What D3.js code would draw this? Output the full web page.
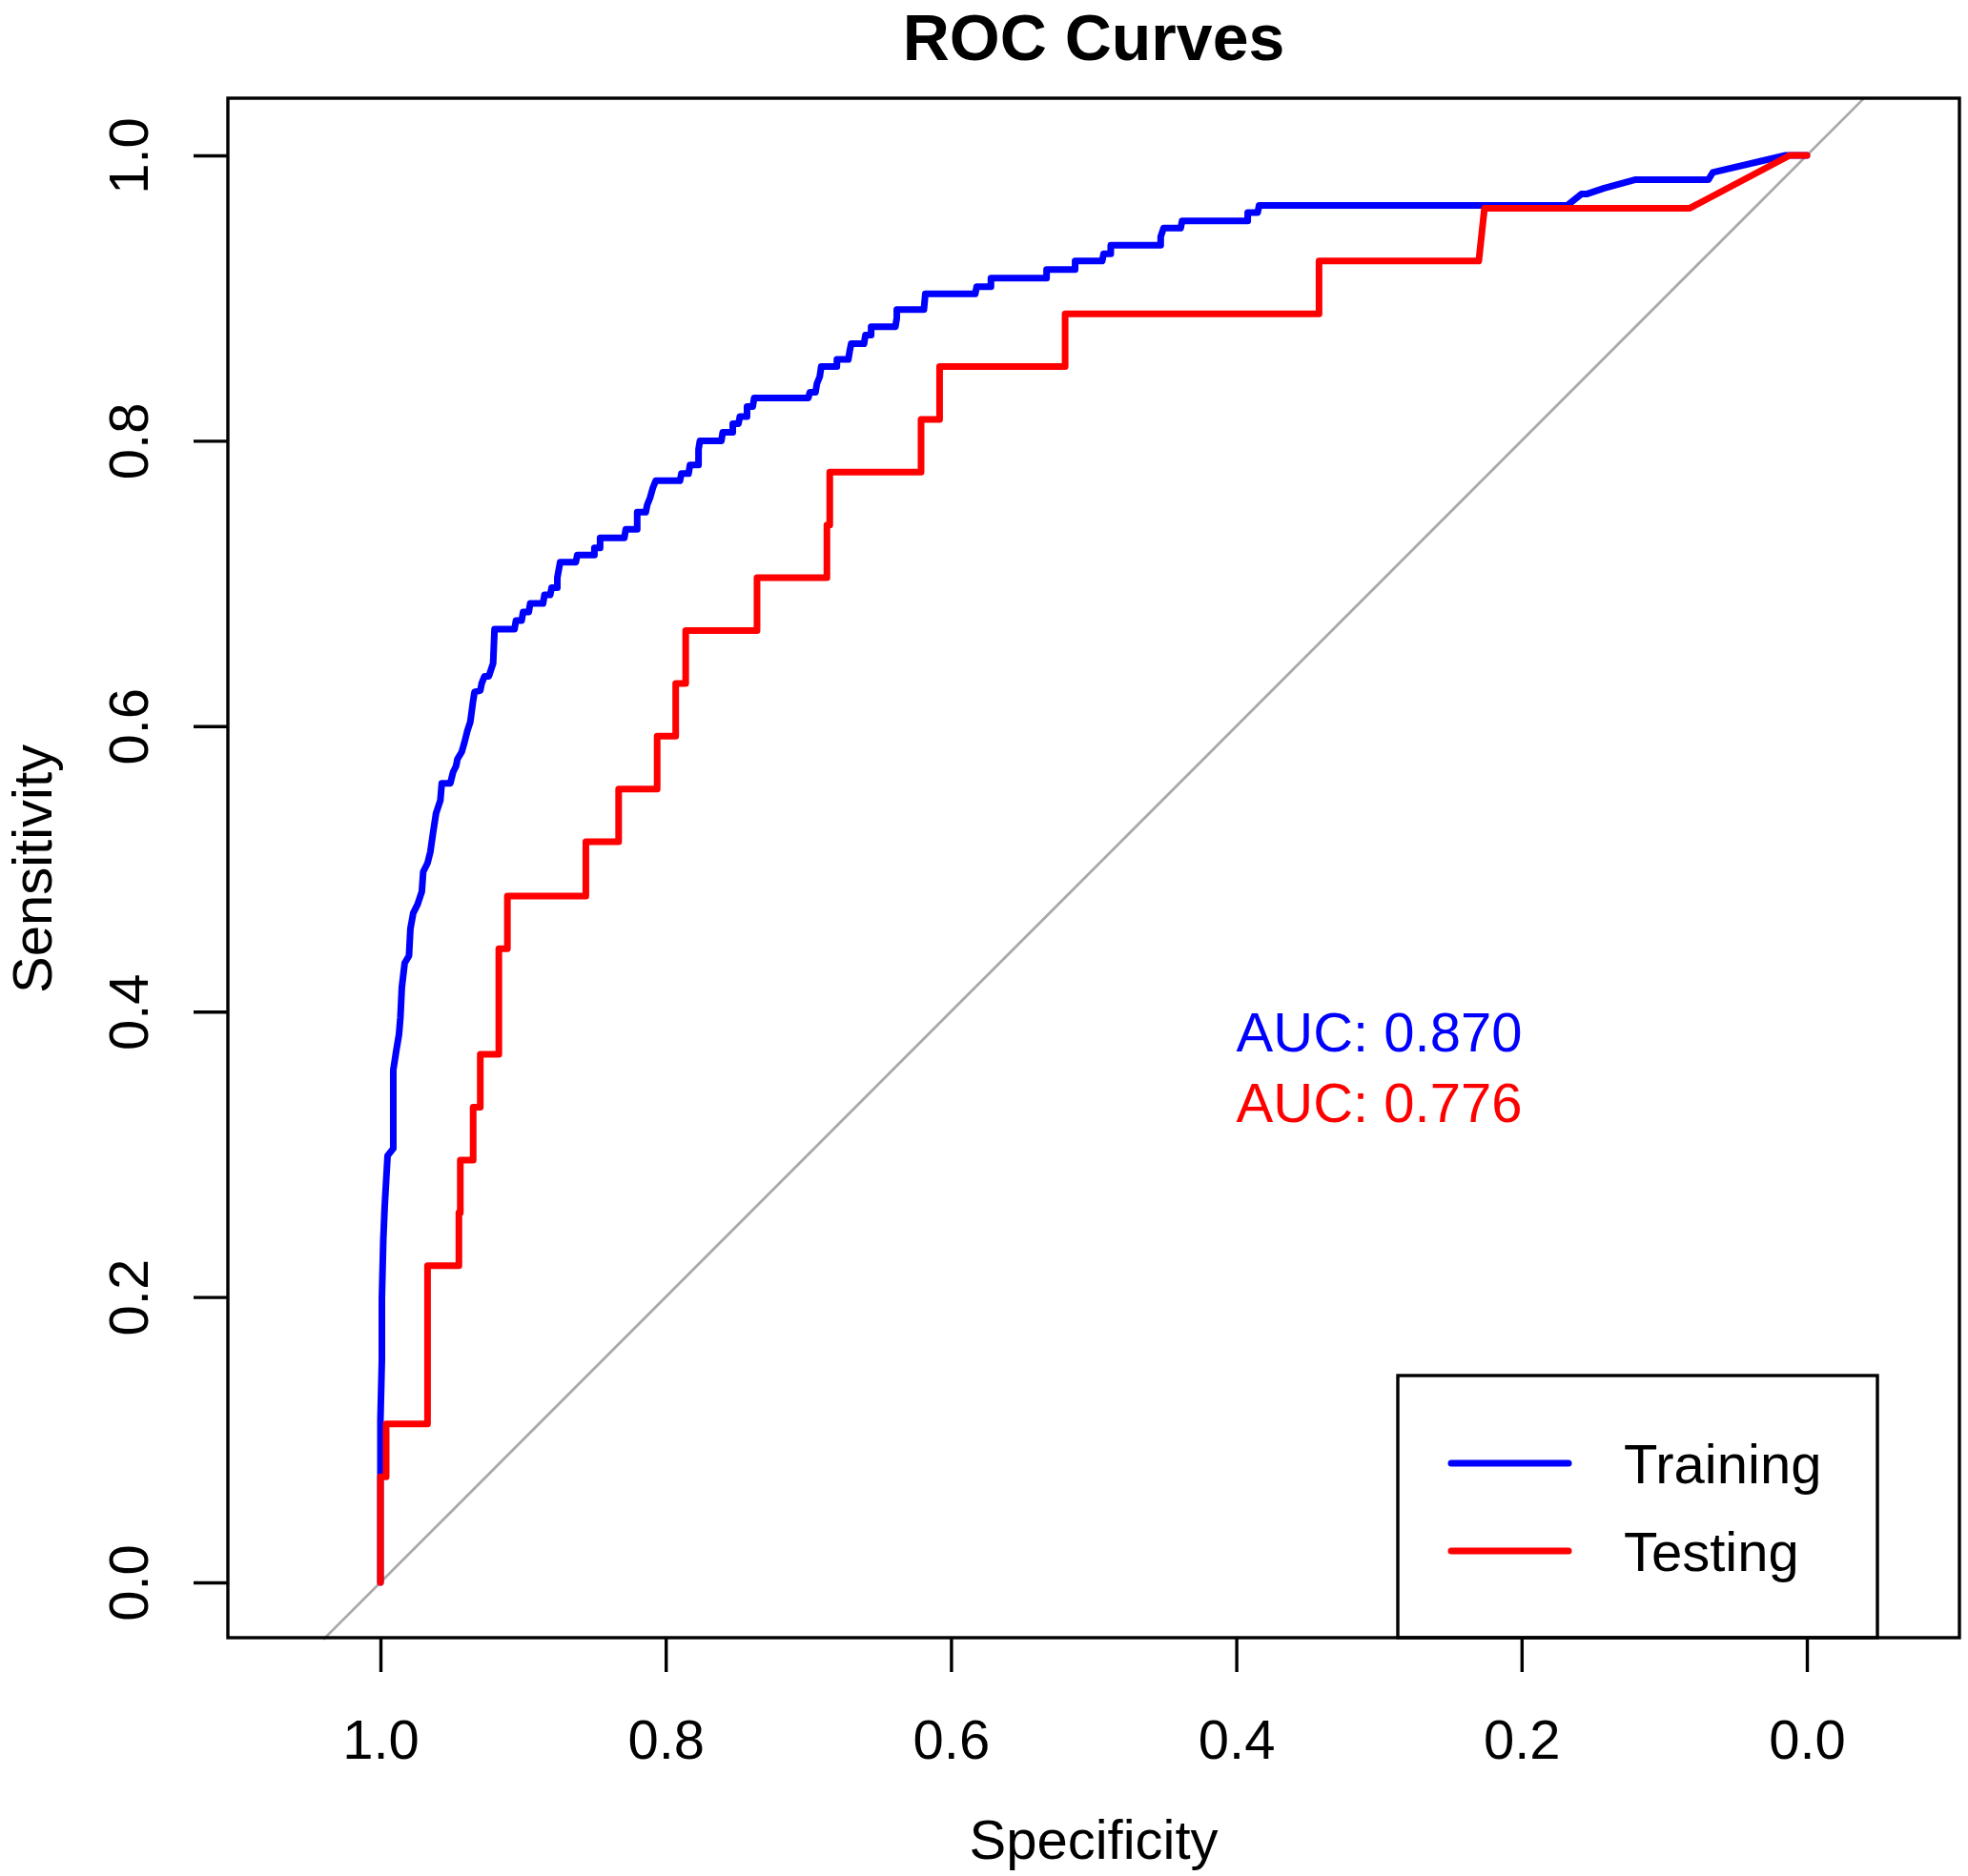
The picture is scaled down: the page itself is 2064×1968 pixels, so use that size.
<!DOCTYPE html>
<html>
<head>
<meta charset="utf-8">
<script src="https://cdn.jsdelivr.net/npm/d3@7"></script>
<style>
  body { margin: 0; background: #fff; }
  text { font-family: "Liberation Sans", Arial, Helvetica, sans-serif; }
</style>
</head>
<body>
<div id="chart"></div>
<script>
// Training ROC curve vertices (specificity, sensitivity)
const trainSpec = [1.000, 1.000, 1.000, 0.999, 0.999, 0.998, 0.997, 0.995, 0.991, 0.991, 0.991, 0.989, 0.987, 0.986, 0.985, 0.983, 0.980, 0.979, 0.977, 0.974,
  0.971, 0.970, 0.967, 0.965, 0.963, 0.961, 0.958, 0.957, 0.951, 0.949, 0.947, 0.946, 0.943, 0.941, 0.939, 0.937, 0.935, 0.934, 0.930, 0.929,
  0.927, 0.924, 0.922, 0.921, 0.920, 0.906, 0.905, 0.901, 0.900, 0.896, 0.895, 0.886, 0.885, 0.881, 0.880, 0.876, 0.876, 0.874, 0.863, 0.862,
  0.850, 0.850, 0.846, 0.846, 0.829, 0.828, 0.820, 0.820, 0.814, 0.813, 0.811, 0.809, 0.807, 0.790, 0.789, 0.784, 0.783, 0.777, 0.777, 0.776,
  0.761, 0.760, 0.753, 0.753, 0.749, 0.748, 0.743, 0.743, 0.739, 0.738, 0.700, 0.699, 0.695, 0.694, 0.692, 0.691, 0.680, 0.680, 0.672, 0.671,
  0.670, 0.661, 0.660, 0.656, 0.656, 0.639, 0.638, 0.638, 0.619, 0.618, 0.583, 0.582, 0.572, 0.572, 0.533, 0.533, 0.513, 0.513, 0.494, 0.493,
  0.488, 0.488, 0.453, 0.453, 0.451, 0.439, 0.438, 0.392, 0.392, 0.385, 0.384, 0.168, 0.163, 0.158, 0.154, 0.142, 0.120, 0.069, 0.066, 0.015,
  0.000];
const trainSens = [0.000, 0.078, 0.114, 0.156, 0.199, 0.240, 0.264, 0.299, 0.304, 0.337, 0.359, 0.372, 0.384, 0.396, 0.417, 0.434, 0.439, 0.458, 0.469, 0.475,
  0.484, 0.498, 0.504, 0.512, 0.526, 0.539, 0.548, 0.560, 0.560, 0.568, 0.572, 0.577, 0.582, 0.589, 0.597, 0.603, 0.618, 0.624, 0.625, 0.630,
  0.635, 0.635, 0.641, 0.644, 0.668, 0.668, 0.674, 0.674, 0.680, 0.680, 0.686, 0.686, 0.692, 0.692, 0.697, 0.697, 0.704, 0.715, 0.715, 0.720,
  0.720, 0.725, 0.725, 0.732, 0.732, 0.738, 0.738, 0.750, 0.750, 0.755, 0.760, 0.767, 0.772, 0.772, 0.777, 0.777, 0.783, 0.783, 0.794, 0.800,
  0.800, 0.806, 0.806, 0.812, 0.812, 0.817, 0.817, 0.824, 0.824, 0.830, 0.830, 0.834, 0.834, 0.840, 0.845, 0.852, 0.852, 0.857, 0.857, 0.863,
  0.868, 0.868, 0.874, 0.874, 0.880, 0.880, 0.886, 0.892, 0.892, 0.903, 0.903, 0.908, 0.908, 0.914, 0.914, 0.920, 0.920, 0.926, 0.926, 0.931,
  0.931, 0.937, 0.937, 0.943, 0.949, 0.949, 0.954, 0.954, 0.960, 0.960, 0.965, 0.965, 0.969, 0.973, 0.973, 0.977, 0.983, 0.983, 0.988, 1.000,
  1.000];

// Testing ROC curve vertices
const testSpec = [1.000, 1.000, 0.996, 0.996, 0.967, 0.967, 0.945, 0.945, 0.944, 0.944, 0.935, 0.935, 0.930, 0.930, 0.917, 0.917, 0.911, 0.911,
  0.856, 0.856, 0.833, 0.833, 0.806, 0.806, 0.793, 0.793, 0.786, 0.786, 0.736, 0.736, 0.687, 0.687, 0.685, 0.685, 0.621, 0.621, 0.608, 0.608,
  0.520, 0.520, 0.342, 0.342, 0.230, 0.226, 0.082, 0.012, 0.000];
const testSens = [0.000, 0.074, 0.074, 0.111, 0.111, 0.222, 0.222, 0.259, 0.259, 0.296, 0.296, 0.333, 0.333, 0.370, 0.370, 0.444, 0.444, 0.481,
  0.481, 0.519, 0.519, 0.556, 0.556, 0.593, 0.593, 0.630, 0.630, 0.667, 0.667, 0.704, 0.704, 0.741, 0.741, 0.778, 0.778, 0.815, 0.815, 0.852,
  0.852, 0.889, 0.889, 0.926, 0.926, 0.963, 0.963, 1.000, 1.000];

const seriesNames = ["Training", "Testing"];
const seriesColors = ["#0000ff", "#ff0000"];
const aucLabels = ["AUC: 0.870", "AUC: 0.776"];
const tickValues = [1.0, 0.8, 0.6, 0.4, 0.2, 0.0];

const W = 2064, H = 1968;
const box = { left: 239, right: 2055, top: 103, bottom: 1718 };
const lineW = 7, frameW = 3.4;

const svg = d3.select("#chart").append("svg")
  .attr("width", W).attr("height", H)
  .style("display", "block");

const x = d3.scaleLinear().domain([1, 0]).range([399, 1895]);
const y = d3.scaleLinear().domain([0, 1]).range([1660, 163]);

// title
svg.append("text")
  .attr("x", (box.left + box.right) / 2)
  .attr("y", 63)
  .attr("text-anchor", "middle")
  .style("font-size", "68px")
  .style("font-weight", "bold")
  .text("ROC Curves");

// diagonal reference line, clipped to the plot box
svg.append("line")
  .attr("x1", x(1.04)).attr("y1", y(-0.04))
  .attr("x2", x(-0.04)).attr("y2", y(1.04))
  .attr("stroke", "#a9a9a9")
  .attr("stroke-width", 2.8);

// curves
const line = d3.line().x(d => x(d[0])).y(d => y(d[1]));
const series = [
  d3.zip(trainSpec, trainSens),
  d3.zip(testSpec, testSens)
];
series.forEach((pts, i) => {
  svg.append("path")
    .datum(pts)
    .attr("d", line)
    .attr("fill", "none")
    .attr("stroke", seriesColors[i])
    .attr("stroke-width", lineW)
    .attr("stroke-linejoin", "round")
    .attr("stroke-linecap", "round");
});

// AUC labels
aucLabels.forEach((t, i) => {
  svg.append("text")
    .attr("x", x(0.4))
    .attr("y", 1103 + i * 74)
    .attr("fill", seriesColors[i])
    .style("font-size", "58px")
    .text(t);
});

// axes
const xAxis = svg.append("g")
  .attr("transform", "translate(0," + box.bottom + ")")
  .call(d3.axisBottom(x).tickValues(tickValues).tickFormat(d3.format(".1f")).tickSize(36).tickPadding(0));
xAxis.select(".domain").remove();
xAxis.selectAll(".tick line").attr("stroke", "#000").attr("stroke-width", frameW);
xAxis.selectAll(".tick text")
  .attr("y", 127).attr("dy", null)
  .attr("fill", "#000")
  .style("font-size", "58px")
  .style("font-family", "'Liberation Sans', Arial, sans-serif");

const yAxis = svg.append("g")
  .attr("transform", "translate(" + box.left + ",0)")
  .call(d3.axisLeft(y).tickValues(tickValues).tickFormat(d3.format(".1f")).tickSize(36).tickPadding(0));
yAxis.select(".domain").remove();
yAxis.selectAll(".tick line").attr("stroke", "#000").attr("stroke-width", frameW);
yAxis.selectAll(".tick text")
  .attr("x", null).attr("dy", null)
  .attr("transform", "translate(" + (155 - box.left) + ",0) rotate(-90)")
  .attr("text-anchor", "middle")
  .attr("fill", "#000")
  .style("font-size", "58px")
  .style("font-family", "'Liberation Sans', Arial, sans-serif");

// axis titles
svg.append("text")
  .attr("x", (box.left + box.right) / 2)
  .attr("y", 1950)
  .attr("text-anchor", "middle")
  .style("font-size", "58px")
  .text("Specificity");

svg.append("text")
  .attr("transform", "translate(54," + ((y(0) + y(1)) / 2) + ") rotate(-90)")
  .attr("text-anchor", "middle")
  .style("font-size", "58px")
  .text("Sensitivity");

// legend
const leg = { left: 1466, right: 1969, top: 1443 };
svg.append("rect")
  .attr("x", leg.left).attr("y", leg.top)
  .attr("width", leg.right - leg.left).attr("height", box.bottom - leg.top)
  .attr("fill", "#fff")
  .attr("stroke", "#000")
  .attr("stroke-width", frameW);

seriesNames.forEach((name, i) => {
  const ly = 1535 + i * 92;
  svg.append("line")
    .attr("x1", 1522).attr("x2", 1645)
    .attr("y1", ly).attr("y2", ly)
    .attr("stroke", seriesColors[i])
    .attr("stroke-width", lineW)
    .attr("stroke-linecap", "round");
  svg.append("text")
    .attr("x", 1703)
    .attr("y", ly + 21)
    .style("font-size", "58px")
    .text(name);
});

// plot frame
svg.append("rect")
  .attr("x", box.left).attr("y", box.top)
  .attr("width", box.right - box.left).attr("height", box.bottom - box.top)
  .attr("fill", "none")
  .attr("stroke", "#000")
  .attr("stroke-width", frameW);
</script>
</body>
</html>
